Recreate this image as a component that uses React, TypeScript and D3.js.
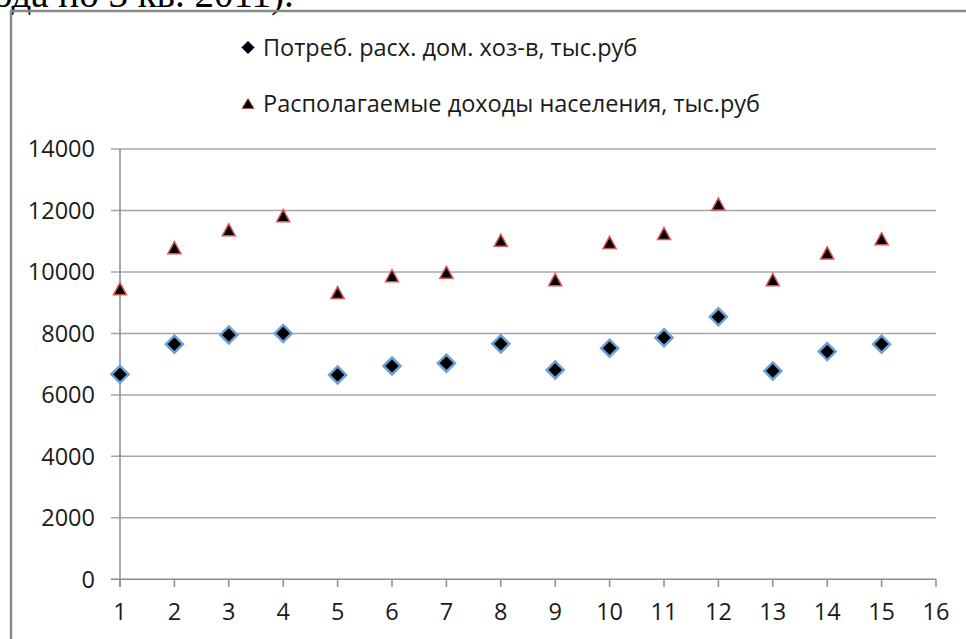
import React from "react";
import * as d3 from "d3";

const periods = [1, 2, 3, 4, 5, 6, 7, 8, 9, 10, 11, 12, 13, 14, 15];
const consumption = [6670, 7650, 7950, 8000, 6650, 6940, 7030, 7660, 6810, 7520, 7860, 8540, 6780, 7410, 7650];
const income = [9450, 10790, 11370, 11830, 9330, 9880, 9990, 11030, 9750, 10960, 11250, 12210, 9750, 10620, 11080];
const xTicks = [1, 2, 3, 4, 5, 6, 7, 8, 9, 10, 11, 12, 13, 14, 15, 16];
const yTicks = [0, 2000, 4000, 6000, 8000, 10000, 12000, 14000];
const seriesNames = ["Потреб. расх. дом. хоз-в, тыс.руб", "Располагаемые доходы населения, тыс.руб"];
const titleFragment = "года по 3 кв. 2011).";

const W = 966;
const H = 639;
const FONT = "'Open Sans', sans-serif";

export default function App() {
  const x = d3.scaleLinear().domain([1, 16]).range([120, 936]);
  const y = d3.scaleLinear().domain([0, 14000]).range([579.3, 149]);
  const diamond = (cx: number, cy: number, r: number) =>
    `M${cx},${cy - r}L${cx + r},${cy}L${cx},${cy + r}L${cx - r},${cy}Z`;
  const tri = (cx: number, cy: number, w: number, h: number) =>
    `M${cx},${cy - h / 2}L${cx + w / 2},${cy + h / 2}L${cx - w / 2},${cy + h / 2}Z`;
  const axisColor = "#8c8c8c";
  const gridColor = "#a6a6a6";
  return (
    <svg width={W} height={H} style={{ position: "absolute", left: 0, top: 0, background: "#fff" }}>
      <text x={-22} y={7} fontFamily="'Liberation Serif', serif" fontSize={39} fill="#000">
        {titleFragment}
      </text>
      {/* frame */}
      <path d={`M11,${H}L11,11L${W},11`} fill="none" stroke="#8a8a8a" strokeWidth={2.5} />
      {/* gridlines & y ticks */}
      {yTicks.map((t) => (
        <g key={"y" + t}>
          <line x1={111} x2={936} y1={y(t)} y2={y(t)} stroke={t === 0 ? axisColor : gridColor} strokeWidth={1.5} />
          <text x={95} y={y(t)} dy="0.35em" textAnchor="end" fontFamily={FONT} fontSize={23.5} fill="#1a1a1a">
            {t}
          </text>
        </g>
      ))}
      {/* y axis */}
      <line x1={x(1)} x2={x(1)} y1={y(14000)} y2={587} stroke={axisColor} strokeWidth={1.5} />
      {/* x ticks */}
      {xTicks.map((t) => (
        <g key={"x" + t}>
          <line x1={x(t)} x2={x(t)} y1={y(0)} y2={587} stroke={axisColor} strokeWidth={1.5} />
          <text x={x(t)} y={612} dy="0.35em" textAnchor="middle" fontFamily={FONT} fontSize={23.5} fill="#1a1a1a">
            {t}
          </text>
        </g>
      ))}
      {/* income triangles */}
      {periods.map((p, i) => (
        <path key={"t" + p} d={tri(x(p), y(income[i]), 13, 12)} fill="#000" stroke="#d9534f" strokeWidth={1.5} strokeLinejoin="miter" />
      ))}
      {/* consumption diamonds */}
      {periods.map((p, i) => (
        <path key={"d" + p} d={diamond(x(p), y(consumption[i]), 8.5)} fill="#000" stroke="#6aa0d8" strokeWidth={2.5} />
      ))}
      {/* legend */}
      <path d={diamond(248, 47.5, 6.5)} fill="#000" stroke="#4f81bd" strokeWidth={1} />
      <text x={263} y={47.5} dy="0.35em" fontFamily={FONT} fontSize={23.5} fill="#1a1a1a">
        {seriesNames[0]}
      </text>
      <path d={tri(248, 103.5, 12, 10)} fill="#000" stroke="#c0504d" strokeWidth={1} />
      <text x={263} y={103.5} dy="0.35em" fontFamily={FONT} fontSize={23.5} fill="#1a1a1a">
        {seriesNames[1]}
      </text>
    </svg>
  );
}
